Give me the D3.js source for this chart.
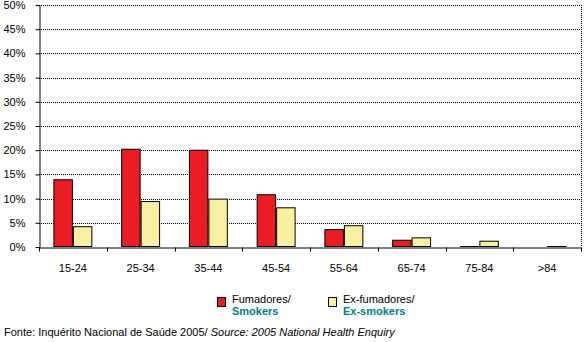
<!DOCTYPE html>
<html><head><meta charset="utf-8">
<script src="https://cdn.jsdelivr.net/npm/d3@7"></script>
<style>body{margin:0;background:#fff}svg{display:block;font-family:"Liberation Sans",Arial,sans-serif}</style>
</head><body>
<script>
const categories = ["15-24","25-34","35-44","45-54","55-64","65-74","75-84",">84"];
const smokers = [14.0, 20.3, 20.1, 10.9, 3.7, 1.5, 0.2, 0.0];
const exSmokers = [4.3, 9.5, 10.0, 8.2, 4.5, 2.0, 1.3, 0.2];
const yTicks = [0,5,10,15,20,25,30,35,40,45,50];
const seriesNames = [["Fumadores/","Smokers"],["Ex-fumadores/","Ex-smokers"]];
const colors = ["#ec1c24","#f8f0a0"];

(function(){
const W=588,H=342;
const svg=d3.select("body").append("svg").attr("width",W).attr("height",H);
const mL=39,mR=581,mT=5,mB=247;
const x=d3.scaleBand().domain(categories).range([mL,mR]).paddingInner(0).paddingOuter(0);
const inner=d3.scaleBand().domain([0,1]).range([0,x.bandwidth()]).paddingOuter(0.74).paddingInner(0);
const y=d3.scaleLinear().domain([0,50]).range([mB,mT]);

// gridlines
svg.append("g").selectAll("line").data(yTicks.filter(d=>d>0)).join("line")
  .attr("x1",mL).attr("x2",mR).attr("y1",d=>Math.round(y(d))+0.5).attr("y2",d=>Math.round(y(d))+0.5)
  .attr("stroke","#000").attr("stroke-dasharray","1,1").attr("stroke-width",1);
// right border
svg.append("line").attr("x1",mR+0.5).attr("x2",mR+0.5).attr("y1",mT).attr("y2",mB)
  .attr("stroke","#000").attr("stroke-dasharray","1,1");

// bars
const data=categories.map((c,i)=>({c,v:[smokers[i],exSmokers[i]]}));
const g=svg.append("g");
data.forEach(d=>{
  d.v.forEach((v,j)=>{
    if(v<=0) return;
    const h=y(0)-y(v);
    if(h<2){
      g.append("line").attr("x1",x(d.c)+inner(j)).attr("x2",x(d.c)+inner(j)+inner.bandwidth())
       .attr("y1",Math.round(mB)-0.5).attr("y2",Math.round(mB)-0.5).attr("stroke","#000");
      return;
    }
    g.append("rect").attr("x",x(d.c)+inner(j)+0.5).attr("y",y(v)+0.5)
     .attr("width",inner.bandwidth()-1).attr("height",h-1)
     .attr("fill",colors[j]).attr("stroke","#000").attr("stroke-width",1);
  });
});

// y axis
const ya=svg.append("g").attr("transform",`translate(${mL+0.5},0)`)
  .call(d3.axisLeft(y).tickValues(yTicks).tickFormat(d=>d+"%").tickSize(4).tickSizeOuter(0));
ya.select(".domain").attr("stroke","#000");
ya.selectAll("text").attr("font-size",11).attr("font-family","Liberation Sans, Arial").attr("fill","#000").attr("dx",-7);

// x axis
const xa=svg.append("g").attr("transform",`translate(0,${Math.round(mB)+0.5})`)
  .call(d3.axisBottom(x).tickSize(0).tickSizeOuter(0));
xa.select(".domain").attr("stroke","#000");
xa.selectAll("text").attr("font-size",11).attr("font-family","Liberation Sans, Arial").attr("fill","#000").attr("dy",21);
xa.append("g").selectAll("line").data(d3.range(categories.length+1)).join("line")
  .attr("x1",i=>Math.round(mL+i*x.bandwidth())+0.5).attr("x2",i=>Math.round(mL+i*x.bandwidth())+0.5)
  .attr("y1",0).attr("y2",4).attr("stroke","#000");

// legend
const lx=[217,328];
seriesNames.forEach((n,i)=>{
  svg.append("rect").attr("x",lx[i]+0.5).attr("y",297.5).attr("width",8).attr("height",9)
    .attr("fill",colors[i]).attr("stroke","#000");
  svg.append("text").attr("x",lx[i]+15).attr("y",303).attr("font-size",11).attr("fill","#000").text(n[0]);
  svg.append("text").attr("x",lx[i]+15).attr("y",315).attr("font-size",11).attr("fill","#008080").attr("font-weight","bold").text(n[1]);
});

// footer
const ft=svg.append("text").attr("x",4).attr("y",336).attr("font-size",11).attr("fill","#000");
ft.append("tspan").text("Fonte: Inquérito Nacional de Saúde 2005/");
ft.append("tspan").attr("font-style","italic").text(" Source: 2005 National Health Enquiry");
})();
</script>
</body></html>
